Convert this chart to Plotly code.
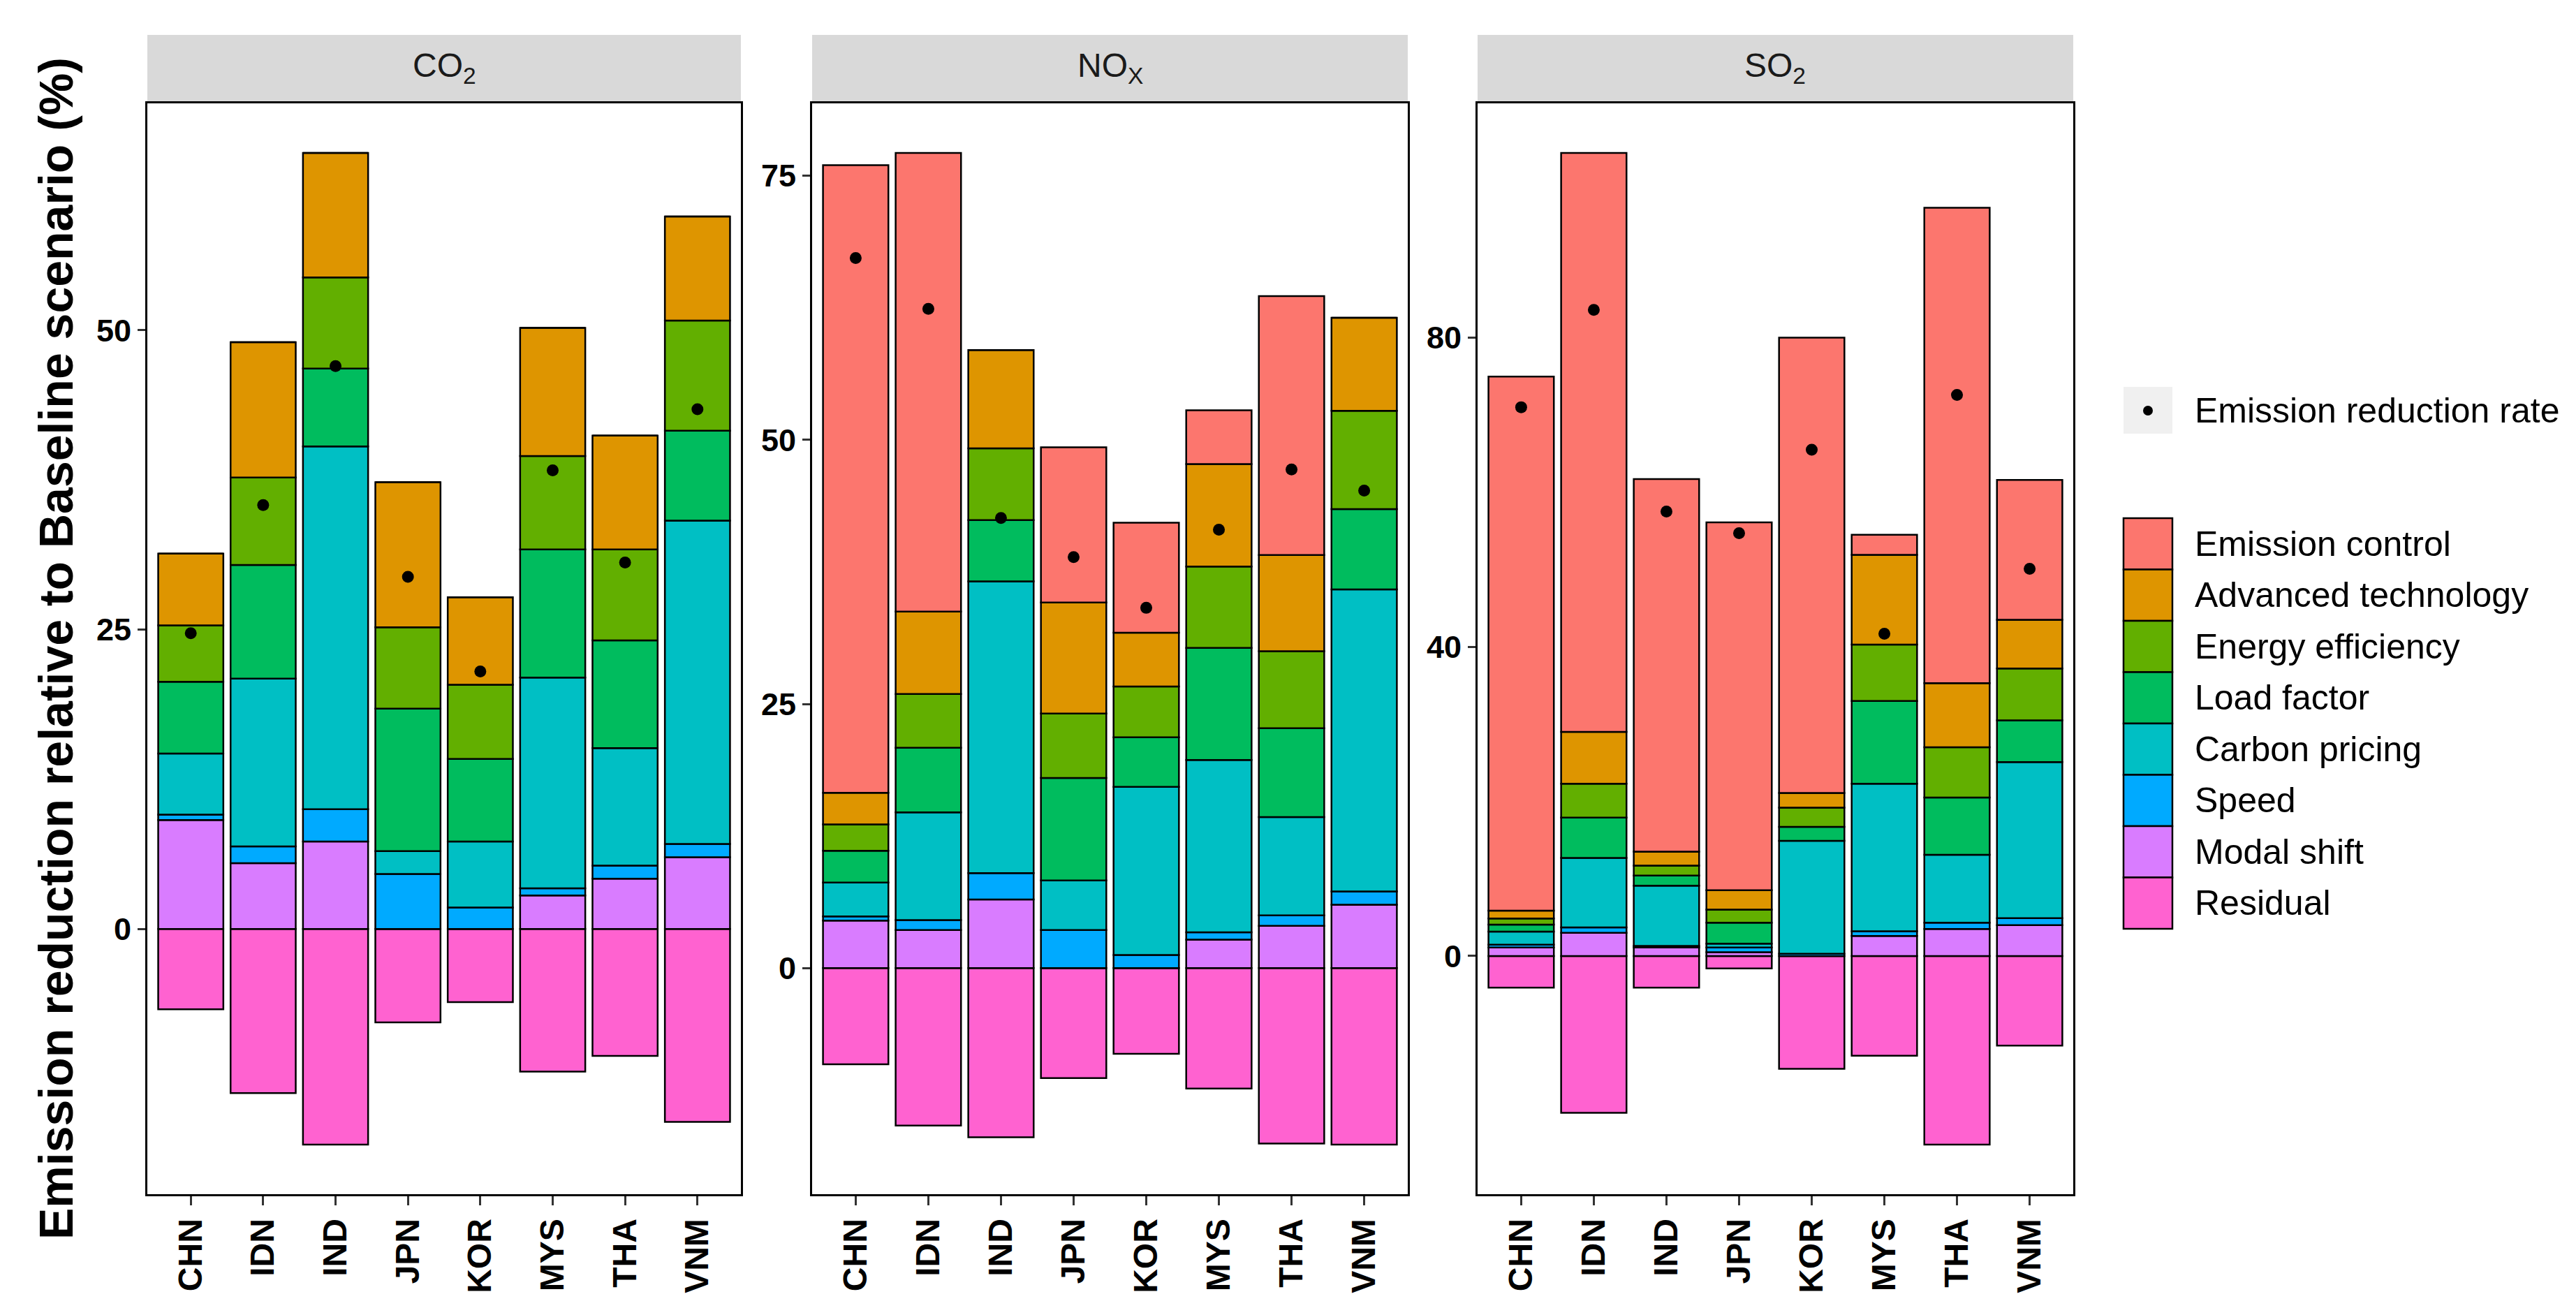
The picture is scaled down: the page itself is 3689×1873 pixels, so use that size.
import plotly.graph_objects as go
import numpy as np

W, H = 3689, 1873

countries = ["CHN", "IDN", "IND", "JPN", "KOR", "MYS", "THA", "VNM"]
series_names = ["Emission control", "Advanced technology", "Energy efficiency", "Load factor",
                "Carbon pricing", "Speed", "Modal shift", "Residual"]
series_colors = ["#FC766E", "#DE9500", "#62AF00", "#00BC5E", "#00BFC4", "#00AAFF", "#D97CFF", "#FF62D0"]
panel_titles = ["CO<sub>2</sub>", "NO<sub>X</sub>", "SO<sub>2</sub>"]
rate_label = "Emission reduction rate"
y_title = "Emission reduction relative to Baseline scenario (%)"

# ---- CO2 ----
co2_emission_control = [0, 0, 0, 0, 0, 0, 0, 0]
co2_advanced_tech = [6.0, 11.3, 10.4, 12.1, 7.3, 10.7, 9.5, 8.7]
co2_energy_eff = [4.7, 7.3, 7.6, 6.8, 6.2, 7.8, 7.6, 9.2]
co2_load_factor = [6.0, 9.5, 6.5, 11.9, 6.9, 10.7, 9.0, 7.5]
co2_carbon_pricing = [5.1, 14.0, 30.3, 1.9, 5.5, 17.6, 9.8, 27.0]
co2_speed = [0.45, 1.4, 2.7, 4.6, 1.8, 0.6, 1.1, 1.1]
co2_modal_shift = [9.1, 5.5, 7.3, 0, 0, 2.8, 4.2, 6.0]
co2_residual = [-6.7, -13.7, -18.0, -7.8, -6.1, -11.9, -10.6, -16.1]
co2_rate = [24.7, 35.4, 47.0, 29.4, 21.5, 38.3, 30.6, 43.4]
co2_ticks = [0, 25, 50]

# ---- NOx ----
nox_emission_control = [59.4, 43.4, 0, 14.7, 10.4, 5.1, 24.5, 0]
nox_advanced_tech = [3.0, 7.8, 9.3, 10.5, 5.1, 9.7, 9.1, 8.8]
nox_energy_eff = [2.5, 5.1, 6.8, 6.1, 4.8, 7.7, 7.3, 9.3]
nox_load_factor = [3.0, 6.1, 5.8, 9.7, 4.7, 10.6, 8.4, 7.6]
nox_carbon_pricing = [3.2, 10.2, 27.6, 4.7, 15.9, 16.3, 9.3, 28.6]
nox_speed = [0.4, 0.95, 2.5, 3.6, 1.25, 0.7, 1.0, 1.25]
nox_modal_shift = [4.5, 3.6, 6.5, 0, 0, 2.7, 4.0, 6.0]
nox_residual = [-9.1, -14.9, -16.0, -10.4, -8.1, -11.4, -16.6, -16.7]
nox_rate = [67.2, 62.4, 42.6, 38.9, 34.1, 41.5, 47.2, 45.2]
nox_ticks = [0, 25, 50, 75]

# ---- SO2 ----
so2_emission_control = [69.1, 74.9, 48.2, 47.6, 58.9, 2.6, 61.5, 18.1]
so2_advanced_tech = [1.0, 6.7, 1.8, 2.5, 1.9, 11.6, 8.3, 6.3]
so2_energy_eff = [0.8, 4.4, 1.3, 1.7, 2.5, 7.3, 6.5, 6.7]
so2_load_factor = [0.9, 5.2, 1.3, 2.7, 1.8, 10.7, 7.4, 5.4]
so2_carbon_pricing = [1.7, 9.0, 7.8, 0.5, 14.6, 19.1, 8.8, 20.2]
so2_speed = [0.36, 0.7, 0.2, 0.6, 0.3, 0.6, 0.8, 0.9]
so2_modal_shift = [1.1, 3.0, 1.1, 0.5, 0, 2.6, 3.5, 4.0]
so2_residual = [-4.1, -20.3, -4.1, -1.6, -14.6, -12.9, -24.4, -11.6]
so2_rate = [71.0, 83.6, 57.5, 54.7, 65.5, 41.7, 72.6, 50.1]
so2_ticks = [0, 40, 80]

panels = [
    dict(data=[co2_emission_control, co2_advanced_tech, co2_energy_eff, co2_load_factor,
               co2_carbon_pricing, co2_speed, co2_modal_shift, co2_residual],
         rate=co2_rate, ticks=co2_ticks),
    dict(data=[nox_emission_control, nox_advanced_tech, nox_energy_eff, nox_load_factor,
               nox_carbon_pricing, nox_speed, nox_modal_shift, nox_residual],
         rate=nox_rate, ticks=nox_ticks),
    dict(data=[so2_emission_control, so2_advanced_tech, so2_energy_eff, so2_load_factor,
               so2_carbon_pricing, so2_speed, so2_modal_shift, so2_residual],
         rate=so2_rate, ticks=so2_ticks),
]

# ---- layout geometry (pixels) ----
x_dom_px = [(203, 1053), (1155, 2008), (2108, 2961)]
y_top_px, y_bot_px = 140, 1702
strip_top_px = 42
FONT = "Liberation Sans, Arial, sans-serif"

def px_x(v):
    return v / W

def px_y(v):
    return 1 - v / H

fig = go.Figure()
# stacking order: first positive trace is closest to zero
stack_idx = [7, 6, 5, 4, 3, 2, 1, 0]

layout_axes = {}
shapes = []
annotations = []

for p, panel in enumerate(panels):
    xa = "x" if p == 0 else f"x{p+1}"
    ya = "y" if p == 0 else f"y{p+1}"
    for i in stack_idx:
        fig.add_trace(go.Bar(
            x=countries, y=panel["data"][i], name=series_names[i],
            xaxis=xa, yaxis=ya, width=0.9,
            marker=dict(color=series_colors[i], line=dict(color="black", width=2.5)),
            showlegend=False, legendgroup=series_names[i],
        ))
    fig.add_trace(go.Scatter(
        x=countries, y=panel["rate"], mode="markers", name=rate_label,
        xaxis=xa, yaxis=ya, marker=dict(color="black", size=17),
        showlegend=False,
    ))
    arr = np.array(panel["data"], dtype=float)
    tops = np.where(arr > 0, arr, 0).sum(axis=0)
    bots = np.where(arr < 0, arr, 0).sum(axis=0)
    lo = min(bots.min(), min(panel["rate"]))
    hi = max(tops.max(), max(panel["rate"]))
    span = hi - lo
    yr = [lo - 0.05 * span, hi + 0.05 * span]

    xkey = "xaxis" if p == 0 else f"xaxis{p+1}"
    ykey = "yaxis" if p == 0 else f"yaxis{p+1}"
    dom = [px_x(x_dom_px[p][0]), px_x(x_dom_px[p][1])]
    layout_axes[xkey] = dict(
        domain=dom, anchor=ya, type="category",
        categoryorder="array", categoryarray=countries, range=[-0.6, 7.6],
        showline=True, mirror=True, linecolor="black", linewidth=3,
        ticks="outside", ticklen=13, tickwidth=3, tickcolor="#333333",
        tickangle=-90, showgrid=False, zeroline=False,
        tickfont=dict(family=FONT, size=48, color="black", weight="bold"),
    )
    layout_axes[ykey] = dict(
        domain=[px_y(y_bot_px), px_y(y_top_px)], anchor=xa, range=yr,
        tickmode="array", tickvals=panel["ticks"],
        showline=True, mirror=True, linecolor="black", linewidth=3,
        ticks="outside", ticklen=11, tickwidth=3, tickcolor="#333333",
        showgrid=False, zeroline=False,
        tickfont=dict(family=FONT, size=45, color="black", weight="bold"),
    )
    # facet strip
    shapes.append(dict(type="rect", xref="paper", yref="paper",
                       x0=dom[0], x1=dom[1], y0=px_y(y_top_px), y1=px_y(strip_top_px),
                       fillcolor="#D9D9D9", line=dict(width=0), layer="below"))
    annotations.append(dict(xref="paper", yref="paper", x=(dom[0] + dom[1]) / 2,
                            y=px_y(89), text=panel_titles[p], showarrow=False,
                            xanchor="center", yanchor="middle",
                            font=dict(family=FONT, size=48, color="#1A1A1A")))

# y-axis title
annotations.append(dict(xref="paper", yref="paper", x=px_x(72), y=px_y((y_top_px + y_bot_px) / 2),
                        text=y_title, textangle=-90, showarrow=False,
                        xanchor="center", yanchor="middle",
                        font=dict(family=FONT, size=68, color="black", weight="bold")))

# legend: reduction rate key
key_x0, key_x1, text_x = 3033, 3103, 3133
shapes.append(dict(type="rect", xref="paper", yref="paper",
                   x0=px_x(key_x0), x1=px_x(key_x1), y0=px_y(613), y1=px_y(546),
                   fillcolor="#F0F0F0", line=dict(width=0)))
shapes.append(dict(type="circle", xref="paper", yref="paper",
                   x0=px_x(3061), x1=px_x(3075), y0=px_y(587), y1=px_y(573),
                   fillcolor="black", line=dict(width=0)))
annotations.append(dict(xref="paper", yref="paper", x=px_x(text_x), y=px_y(580),
                        text=rate_label, showarrow=False, xanchor="left", yanchor="middle",
                        font=dict(family=FONT, size=50, color="black")))

# legend: fill keys
leg_top, leg_h = 734, 73.5
for i, name in enumerate(series_names):
    y0 = leg_top + leg_h * i
    shapes.append(dict(type="rect", xref="paper", yref="paper",
                       x0=px_x(key_x0), x1=px_x(key_x1), y0=px_y(y0 + leg_h), y1=px_y(y0),
                       fillcolor=series_colors[i], line=dict(color="black", width=2.5)))
    annotations.append(dict(xref="paper", yref="paper", x=px_x(text_x), y=px_y(y0 + leg_h / 2),
                            text=name, showarrow=False, xanchor="left", yanchor="middle",
                            font=dict(family=FONT, size=50, color="black")))

fig.update_layout(
    width=W, height=H, barmode="relative",
    margin=dict(l=0, r=0, t=0, b=0),
    paper_bgcolor="white", plot_bgcolor="white",
    showlegend=False, shapes=shapes, annotations=annotations,
    font=dict(family=FONT),
    **layout_axes,
)

fig.write_html("out.html")
